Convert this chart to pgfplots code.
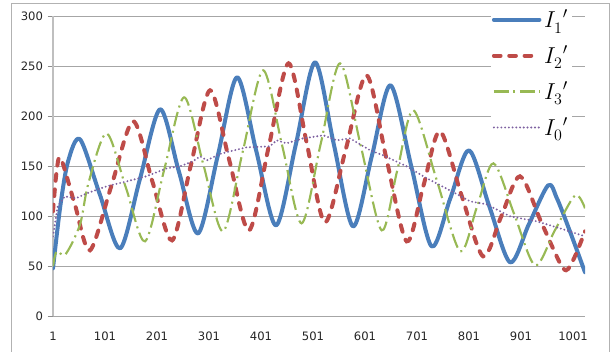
\documentclass[border=0pt]{standalone}
\usepackage{pgfplots}
\pgfplotsset{compat=1.18}
\usepackage{fontspec}
\setmainfont{DejaVu Sans}
\definecolor{cBlue}{HTML}{4A7EBB}
\definecolor{cRed}{HTML}{BE4B48}
\definecolor{cGreen}{HTML}{98B954}
\definecolor{cPurple}{HTML}{7D60A0}
\definecolor{gridgray}{HTML}{A6A6A6}
\begin{document}
\begin{tikzpicture}
\useasboundingbox (-39.75pt,-26pt) rectangle (422.25pt,237.25pt);
\draw[black!30, line width=0.75pt] (-30.75pt,-40pt) -- (-30.75pt,235pt) -- (417pt,235pt) -- (417pt,-40pt);
\begin{axis}[
  scale only axis, width=399pt, height=225pt,
  xmin=1, xmax=1024, ymin=0, ymax=300,
  xtick={1,101,201,301,401,501,601,701,801,901,1001},
  xticklabels={1,101,201,301,401,501,601,701,801,901,1001},
  ytick={0,50,100,150,200,250,300},
  ymajorgrids, grid style={gridgray, line width=0.75pt},
  axis x line*=bottom, axis y line*=left,
  x axis line style={draw=none},
  y axis line style={black!25, line width=0.9pt},
  xtick style={draw=none},
  ytick style={black!45, line width=0.75pt},
  tick align=outside, major tick length=4pt,
  ticklabel style={font=\fontsize{8.7}{10}\selectfont, text=black!85},
  /pgf/number format/assume math mode=true,
  xticklabel style={yshift=-4pt},
  legend style={at={(axis description cs:0.822,1.035)}, anchor=north west,
    draw=none, fill=white, font=\fontsize{17.5}{20}\selectfont,
    row sep=8.5pt, inner sep=1pt, cells={anchor=west}},
  legend image code/.code={\draw[#1] (0cm,0cm) -- (1.2cm,0cm);},
]
\draw[black!50, line width=3.3pt] ([yshift=-2.6pt]rel axis cs:0,0) -- ([yshift=-2.6pt]rel axis cs:1,0);

\addplot[cBlue, line width=3pt, smooth, line cap=round, line join=round] coordinates {
(1,48)(15,110)(30,155)(53,177)(91,122)(130,68)(168,137)(207,207)(243,145)(280,83)
(318,161)(355,239)(392,165)(430,91)(468,172)(505,254)(541,172)(578,90)(614,160)(650,231)
(690,150)(729,70)(765,118)(801,166)(840,110)(880,54)(916,92)(953,131)(970,118)(995,85)(1024,44)};
\addlegendentry{$I_{1}^{\hspace{0.3em}\prime}$}

\addplot[cRed, line width=3pt, smooth, line cap=round, dash pattern=on 5pt off 6.5pt] coordinates {
(1,105)(8,145)(16,158)(43,112)(72,66)(113,130)(155,195)(192,135)(230,76)(266,151)
(303,226)(340,156)(378,86)(416,170)(454,253)(489,173)(524,94)(564,167)(604,241)(642,158)
(681,75)(713,130)(745,185)(786,122)(828,60)(863,100)(899,140)(940,94)(982,48)(1000,55)(1024,85)};
\addlegendentry{$I_{2}^{\hspace{0.3em}\prime}$}

\addplot[cGreen, line width=1.6pt, smooth, dash pattern=on 11pt off 3.5pt on 1.5pt off 3.5pt] coordinates {
(1,50)(8,65)(25,62)(53,92)(69,133)(104,183)(141,129)(178,75)(215,147)(253,219)
(290,152)(328,85)(366,165)(405,246)(442,170)(479,93)(516,173)(553,253)(593,170)(633,86)
(663,146)(694,206)(739,136)(784,65)(816,109)(848,153)(888,102)(928,51)(966,86)(1005,121)(1024,108)};
\addlegendentry{$I_{3}^{\hspace{0.3em}\prime}$}

\addplot[cPurple, line width=1.6pt, line cap=round, dash pattern=on 0pt off 2.8pt] coordinates {
(1,80)(10,110)(24,120)(45,118)(66,123)(104,130)(143,135)(180,140)(220,148)(245,150)
(270,155)(284,160)(297,156)(320,162)(341,165)(373,169)(418,170)(431,176)(450,173)(482,178)
(521,181)(547,176)(572,178)(611,166)(636,161)(681,150)(720,138)(764,126)(803,115)(835,112)
(880,100)(931,95)(976,88)(1000,84)(1024,80)};
\addlegendentry{$I_{0}^{\hspace{0.3em}\prime}$}
\end{axis}
\end{tikzpicture}
\end{document}
